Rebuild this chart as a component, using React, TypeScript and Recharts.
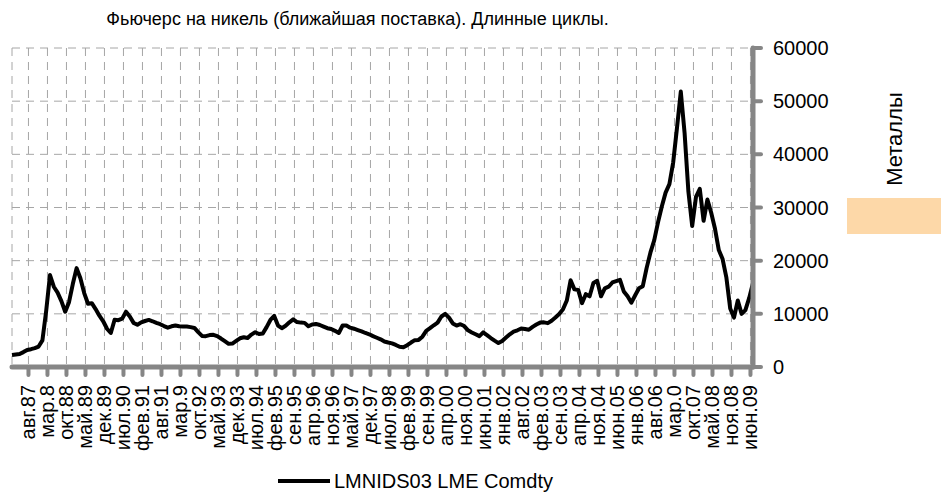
import React from 'react';
import { LineChart, Line, XAxis, YAxis, CartesianGrid } from 'recharts';

// weekly series, sampled every 6 weeks; labels every 30 weeks
const WEEK_STEP = 6;
const FIRST_LABEL_WEEK = 26;
const LABEL_STEP_WEEKS = 30;

const tickLabels = [
    'авг.87', 'мар.8', 'окт.88', 'май.89', 'дек.89', 'июл.90', 'фев.91', 'авг.91', 'мар.9', 'окт.92',
    'май.93', 'дек.93', 'июл.94', 'фев.95', 'сен.95', 'апр.96', 'ноя.96', 'май.97', 'дек.97', 'июл.98',
    'фев.99', 'сен.99', 'апр.00', 'ноя.00', 'июн.01', 'янв.02', 'авг.02', 'фев.03', 'сен.03', 'апр.04',
    'ноя.04', 'июн.05', 'янв.06', 'авг.06', 'мар.0', 'окт.07', 'май.08', 'ноя.08', 'июн.09',
];

const yTicks = [0, 10000, 20000, 30000, 40000, 50000, 60000];

const nickel1987to1991 = [
    2260, 2350, 2440, 2800, 3200, 3350, 3550, 3850, 5000, 10600,
    17300, 15100, 14000, 12400, 10400, 12200, 15600, 18600, 16700, 13900,
    11900, 12000, 10900, 9650, 8600, 7200, 6400, 8900, 8800, 9100,
    10400, 9500, 8300, 7950, 8400, 8650, 8850, 8600, 8300, 8050,
];
const nickel1991to1996 = [
    7700, 7400, 7650, 7800, 7650, 7600, 7600, 7500, 7350, 6550,
    5850, 5800, 6000, 6050, 5800, 5350, 4850, 4350, 4400, 4900,
    5400, 5600, 5450, 6100, 6550, 6200, 6300, 7500, 8850, 9600,
    7800, 7300, 7750, 8400, 8950, 8450, 8350, 8300, 7650, 8000,
];
const nickel1996to2001 = [
    8100, 7900, 7600, 7300, 7150, 6800, 6400, 7800, 7800, 7400,
    7200, 6950, 6700, 6400, 6150, 5800, 5500, 5200, 4800, 4600,
    4450, 4150, 3800, 3700, 4100, 4600, 5050, 5100, 5700, 6800,
    7300, 7850, 8350, 9500, 10000, 9300, 8200, 7800, 8050, 7700,
];
const nickel2001to2005 = [
    6900, 6500, 6150, 5800, 6500, 6000, 5450, 4950, 4500, 4900,
    5550, 6150, 6650, 6900, 7250, 7150, 7000, 7550, 8000, 8350,
    8400, 8250, 8700, 9300, 9950, 10850, 12500, 16300, 14600, 14500,
    12000, 13700, 13300, 15800, 16200, 13300, 14800, 15100, 15900, 16150,
];
const nickel2005to2009 = [
    16400, 14200, 13300, 12100, 13500, 14800, 15200, 18600, 21500, 23800,
    27200, 30200, 32800, 34400, 38500, 45000, 51800, 44000, 33000, 26500,
    32000, 33500, 27500, 31500, 29000, 26000, 22000, 20300, 16800, 11000,
    9300, 12500, 10000, 10700, 13000, 15800,
];

const prices = [
    ...nickel1987to1991,
    ...nickel1991to1996,
    ...nickel1996to2001,
    ...nickel2001to2005,
    ...nickel2005to2009,
];

const data = prices.map((price, i) => ({ week: i * WEEK_STEP, price }));
const tickWeeks = tickLabels.map((_, i) => FIRST_LABEL_WEEK + i * LABEL_STEP_WEEKS);
const lastWeek = (prices.length - 1) * WEEK_STEP;

const FONT = '"Liberation Sans", Arial, sans-serif';
const AXIS_GREY = '#868686';

const RotatedTick = (props: any) => {
    const { x, y, payload } = props;
    const idx = tickWeeks.indexOf(payload.value);
    return (
        <text
            x={x}
            y={y}
            transform={`rotate(-90, ${x}, ${y})`}
            textAnchor="end"
            dominantBaseline="central"
            fontSize={20}
            fontFamily={FONT}
            fill="#000"
        >
            {idx >= 0 ? tickLabels[idx] : ''}
        </text>
    );
};

export default function App() {
    return (
        <div
            style={{
                position: 'relative',
                width: 952,
                height: 495,
                margin: '-8px -8px 0 -8px',
                fontFamily: FONT,
                background: '#fff',
            }}
        >
            <LineChart width={952} height={495} data={data} margin={{ top: 48, right: 0, left: 12, bottom: 28 }}>
                <CartesianGrid stroke="#a6a6a6" strokeDasharray="8 6" />
                <XAxis
                    dataKey="week"
                    type="number"
                    domain={[0, lastWeek]}
                    ticks={tickWeeks}
                    interval={0}
                    height={100}
                    tick={<RotatedTick />}
                    tickSize={8}
                    tickMargin={10}
                    axisLine={{ stroke: AXIS_GREY, strokeWidth: 5, strokeLinecap: 'round' }}
                    tickLine={{ stroke: AXIS_GREY, strokeWidth: 4, strokeLinecap: 'round' }}
                />
                <YAxis
                    orientation="right"
                    width={199}
                    domain={[0, 60000]}
                    ticks={yTicks}
                    interval={0}
                    tickSize={8}
                    tickMargin={12}
                    tick={{ fontSize: 20, fill: '#000', fontFamily: FONT }}
                    axisLine={{ stroke: AXIS_GREY, strokeWidth: 5, strokeLinecap: 'round' }}
                    tickLine={{ stroke: AXIS_GREY, strokeWidth: 4, strokeLinecap: 'round' }}
                />
                <Line
                    type="linear"
                    dataKey="price"
                    stroke="#000"
                    strokeWidth={4}
                    strokeLinejoin="round"
                    dot={false}
                    isAnimationActive={false}
                />
            </LineChart>

            <div style={{ position: 'absolute', left: 0, width: 715, top: 9, textAlign: 'center', fontSize: 18, whiteSpace: 'nowrap' }}>
                Фьючерс на никель (ближайшая поставка). Длинные циклы.
            </div>

            <div
                style={{
                    position: 'absolute',
                    left: 895,
                    top: 139,
                    transform: 'translate(-50%, -50%) rotate(-90deg)',
                    fontSize: 22,
                    lineHeight: 1,
                    whiteSpace: 'nowrap',
                }}
            >
                Металлы
            </div>
            <div style={{ position: 'absolute', left: 847, top: 198, width: 94, height: 36, background: '#fdd8a8' }} />

            <div style={{ position: 'absolute', left: 278, top: 469, display: 'flex', alignItems: 'center', fontSize: 20 }}>
                <svg width={54} height={24}>
                    <line x1={0} y1={12} x2={52} y2={12} stroke="#000" strokeWidth={4} />
                </svg>
                <span style={{ marginLeft: 2 }}>LMNIDS03 LME Comdty</span>
            </div>
        </div>
    );
}
